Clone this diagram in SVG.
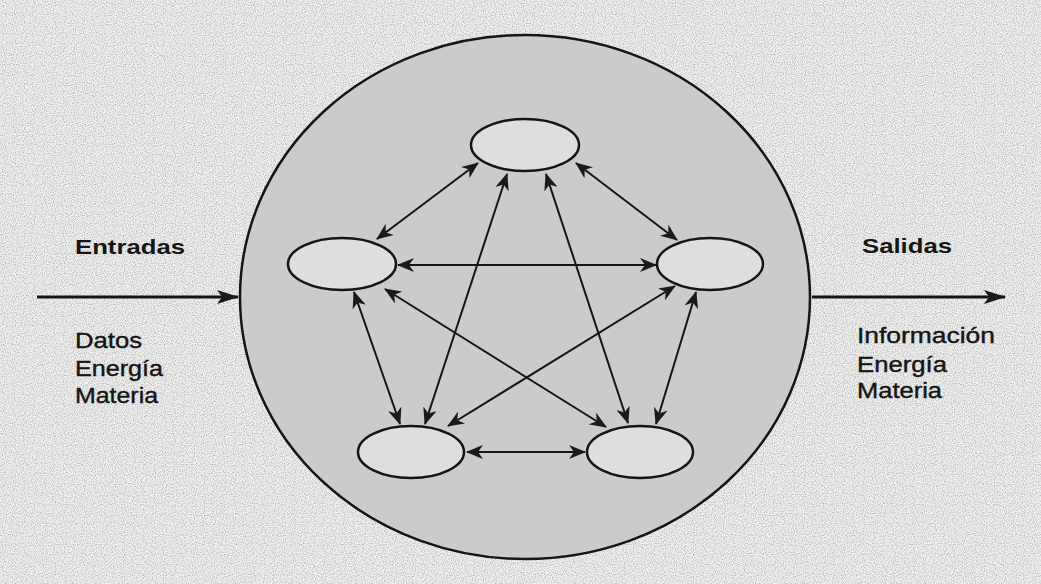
<svg xmlns="http://www.w3.org/2000/svg" width="1041" height="584" viewBox="0 0 1041 584">
  <defs>
    <marker id="ah" viewBox="0 0 17 14" refX="16" refY="7" markerWidth="17" markerHeight="14" markerUnits="userSpaceOnUse" orient="auto-start-reverse">
      <path d="M0,0 L17,7 L0,14 L5,7 z" fill="#1a1a1a"/>
    </marker>
    <marker id="big" viewBox="0 0 22 14" refX="21" refY="7" markerWidth="22" markerHeight="14" markerUnits="userSpaceOnUse" orient="auto">
      <path d="M0,0 L22,7 L0,14 L5,7 z" fill="#1a1a1a"/>
    </marker>
    <filter id="grain" x="0" y="0" width="100%" height="100%">
      <feTurbulence type="fractalNoise" baseFrequency="0.9" numOctaves="1" seed="3" result="n"/>
      <feColorMatrix in="n" type="matrix" values="0 0 0 0 0  0 0 0 0 0  0 0 0 0 0  0 0 0 -2.2 1.25" result="dots"/>
      <feComposite in="dots" in2="SourceGraphic" operator="in"/>
    </filter>
  </defs>
  <style>
    .node { fill: #dedede; stroke: #151515; stroke-width: 2.5; }
    .conn { stroke: #151515; stroke-width: 2; fill: none; marker-start: url(#ah); marker-end: url(#ah); }
    .io { stroke: #151515; stroke-width: 3; fill: none; marker-end: url(#big); }
    .head { font-family: "Liberation Sans", Arial, sans-serif; font-size: 21px; font-weight: bold; fill: #151515; }
    .lbl { font-family: "Liberation Sans", Arial, sans-serif; font-size: 22px; fill: #151515; stroke: #151515; stroke-width: 0.4; }
  </style>
  <rect x="0" y="0" width="1041" height="584" fill="#efefef"/>
  <rect x="0" y="0" width="1041" height="584" fill="#8a8a8a" filter="url(#grain)" opacity="0.3"/>

  <g id="system">
    <ellipse cx="525" cy="297" rx="285" ry="262" fill="#cbcbcb" stroke="#151515" stroke-width="2.5"/>
  </g>

  <g id="connectors">
    <line class="io" x1="37" y1="297" x2="238" y2="297"/>
    <line class="io" x1="812" y1="297" x2="1005" y2="297"/>
    <line class="conn" x1="478" y1="163" x2="377" y2="239"/>
    <line class="conn" x1="576" y1="163" x2="677" y2="240"/>
    <line class="conn" x1="507" y1="174" x2="425" y2="424"/>
    <line class="conn" x1="546" y1="174" x2="628" y2="423"/>
    <line class="conn" x1="398" y1="265" x2="656" y2="265"/>
    <line class="conn" x1="354" y1="292" x2="400" y2="424"/>
    <line class="conn" x1="385" y1="289" x2="606" y2="427"/>
    <line class="conn" x1="675" y1="286" x2="448" y2="426"/>
    <line class="conn" x1="696" y1="292" x2="656" y2="424"/>
    <line class="conn" x1="467" y1="452" x2="585" y2="452"/>
  </g>

  <g id="node-top"><ellipse class="node" cx="525" cy="145" rx="54" ry="26"/></g>
  <g id="node-left"><ellipse class="node" cx="342" cy="264" rx="54" ry="26"/></g>
  <g id="node-right"><ellipse class="node" cx="710" cy="264" rx="53" ry="26"/></g>
  <g id="node-bottom-left"><ellipse class="node" cx="411" cy="452" rx="53" ry="26"/></g>
  <g id="node-bottom-right"><ellipse class="node" cx="640" cy="452" rx="53" ry="26"/></g>

  <g id="inputs">
    <text class="head" x="75" y="254" textLength="110" lengthAdjust="spacingAndGlyphs">Entradas</text>
    <text class="lbl" x="75" y="348" textLength="67" lengthAdjust="spacingAndGlyphs">Datos</text>
    <text class="lbl" x="75" y="376" textLength="88" lengthAdjust="spacingAndGlyphs">Energía</text>
    <text class="lbl" x="75" y="403" textLength="83" lengthAdjust="spacingAndGlyphs">Materia</text>
  </g>
  <g id="outputs">
    <text class="head" x="862" y="253" textLength="90" lengthAdjust="spacingAndGlyphs">Salidas</text>
    <text class="lbl" x="857" y="343" textLength="138" lengthAdjust="spacingAndGlyphs">Información</text>
    <text class="lbl" x="857" y="372" textLength="90" lengthAdjust="spacingAndGlyphs">Energía</text>
    <text class="lbl" x="857" y="398" textLength="85" lengthAdjust="spacingAndGlyphs">Materia</text>
  </g>
</svg>
